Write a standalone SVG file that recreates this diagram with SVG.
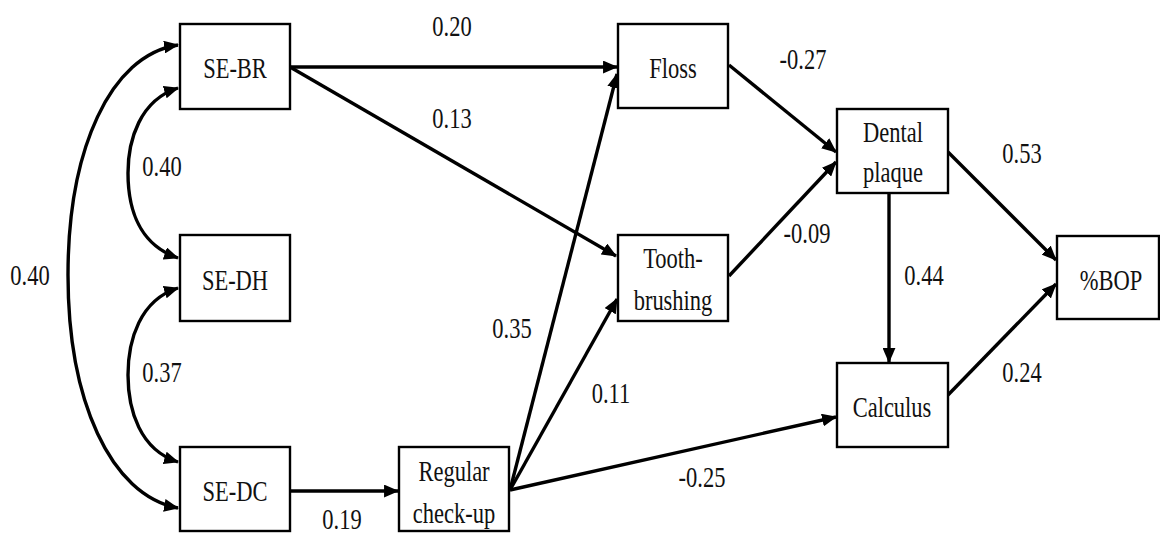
<svg xmlns="http://www.w3.org/2000/svg" width="1160" height="534" viewBox="0 0 1160 534">
<style>
  .box { fill: #ffffff; stroke: #000000; stroke-width: 2.4; }
  .t { font-size: 30px; fill: #111111; text-anchor: middle; }
  .c { fill: none; stroke: #000000; stroke-width: 3.4; }
</style>
<defs>
  <marker id="ah" viewBox="0 0 14 12" refX="13" refY="6" markerWidth="15" markerHeight="13" markerUnits="userSpaceOnUse" orient="auto-start-reverse">
    <path d="M0,0 L14,6 L0,12 Z" fill="#000000"/>
  </marker>
</defs>
<rect width="1160" height="534" fill="#ffffff"/>

<g id="connectors">
  <path class="c" d="M178,45 C110,55 68,150 68,275 C68,400 110,495 178,508" marker-start="url(#ah)" marker-end="url(#ah)"/>
  <path class="c" d="M178,88 C140,100 128,140 128,173 C128,210 140,245 178,258" marker-start="url(#ah)" marker-end="url(#ah)"/>
  <path class="c" d="M178,288 C140,300 128,340 128,375 C128,410 140,450 178,462" marker-start="url(#ah)" marker-end="url(#ah)"/>
  <path class="c" d="M290,67 L617,67" marker-end="url(#ah)"/>
  <path class="c" d="M290,67 L616,256" marker-end="url(#ah)"/>
  <path class="c" d="M290,491 L398,491" marker-end="url(#ah)"/>
  <path class="c" d="M510,490 L617,74" marker-end="url(#ah)"/>
  <path class="c" d="M510,490 L617,299" marker-end="url(#ah)"/>
  <path class="c" d="M510,490 L836,417" marker-end="url(#ah)"/>
  <path class="c" d="M729,65 L836,152" marker-end="url(#ah)"/>
  <path class="c" d="M729,276 L836,162" marker-end="url(#ah)"/>
  <path class="c" d="M948,152 L1056,260" marker-end="url(#ah)"/>
  <path class="c" d="M889,193 L889,362" marker-end="url(#ah)"/>
  <path class="c" d="M948,395 L1056,284" marker-end="url(#ah)"/>
</g>

<g font-family="Liberation Serif, DejaVu Serif, serif">
<g id="node-se-br">
  <rect class="box" x="180" y="24" width="110" height="85"/>
  <text class="t" transform="translate(235,78) scale(0.75,1)">SE-BR</text>
</g>
<g id="node-se-dh">
  <rect class="box" x="180" y="235" width="110" height="86"/>
  <text class="t" transform="translate(235,290) scale(0.75,1)">SE-DH</text>
</g>
<g id="node-se-dc">
  <rect class="box" x="180" y="447" width="110" height="84"/>
  <text class="t" transform="translate(235,501) scale(0.75,1)">SE-DC</text>
</g>
<g id="node-regular">
  <rect class="box" x="399" y="447" width="110" height="84"/>
  <text class="t" transform="translate(454,481) scale(0.75,1)">Regular</text>
  <text class="t" transform="translate(454,523) scale(0.75,1)">check-up</text>
</g>
<g id="node-floss">
  <rect class="box" x="618" y="24" width="110" height="84"/>
  <text class="t" transform="translate(673,78) scale(0.75,1)">Floss</text>
</g>
<g id="node-toothbrushing">
  <rect class="box" x="618" y="235" width="110" height="86"/>
  <text class="t" transform="translate(673,268) scale(0.75,1)">Tooth-</text>
  <text class="t" transform="translate(673,310) scale(0.75,1)">brushing</text>
</g>
<g id="node-dental-plaque">
  <rect class="box" x="837" y="109" width="111" height="84"/>
  <text class="t" transform="translate(893,142) scale(0.75,1)">Dental</text>
  <text class="t" transform="translate(893,182) scale(0.75,1)">plaque</text>
</g>
<g id="node-calculus">
  <rect class="box" x="837" y="363" width="111" height="84"/>
  <text class="t" transform="translate(892,417) scale(0.75,1)">Calculus</text>
</g>
<g id="node-bop">
  <rect class="box" x="1057" y="236" width="102" height="83"/>
  <text class="t" transform="translate(1111,290) scale(0.75,1)">%BOP</text>
</g>

<g id="labels">
  <text class="t" transform="translate(30,285) scale(0.75,1)">0.40</text>
  <text class="t" transform="translate(162,176) scale(0.75,1)">0.40</text>
  <text class="t" transform="translate(162,382) scale(0.75,1)">0.37</text>
  <text class="t" transform="translate(452,36) scale(0.75,1)">0.20</text>
  <text class="t" transform="translate(452,128) scale(0.75,1)">0.13</text>
  <text class="t" transform="translate(512,338) scale(0.75,1)">0.35</text>
  <text class="t" transform="translate(611,403) scale(0.75,1)">0.11</text>
  <text class="t" transform="translate(702,487) scale(0.75,1)">-0.25</text>
  <text class="t" transform="translate(342,529) scale(0.75,1)">0.19</text>
  <text class="t" transform="translate(803,69) scale(0.75,1)">-0.27</text>
  <text class="t" transform="translate(807,243) scale(0.75,1)">-0.09</text>
  <text class="t" transform="translate(924,285) scale(0.75,1)">0.44</text>
  <text class="t" transform="translate(1022,163) scale(0.75,1)">0.53</text>
  <text class="t" transform="translate(1022,382) scale(0.75,1)">0.24</text>
</g>
</g>
</svg>
